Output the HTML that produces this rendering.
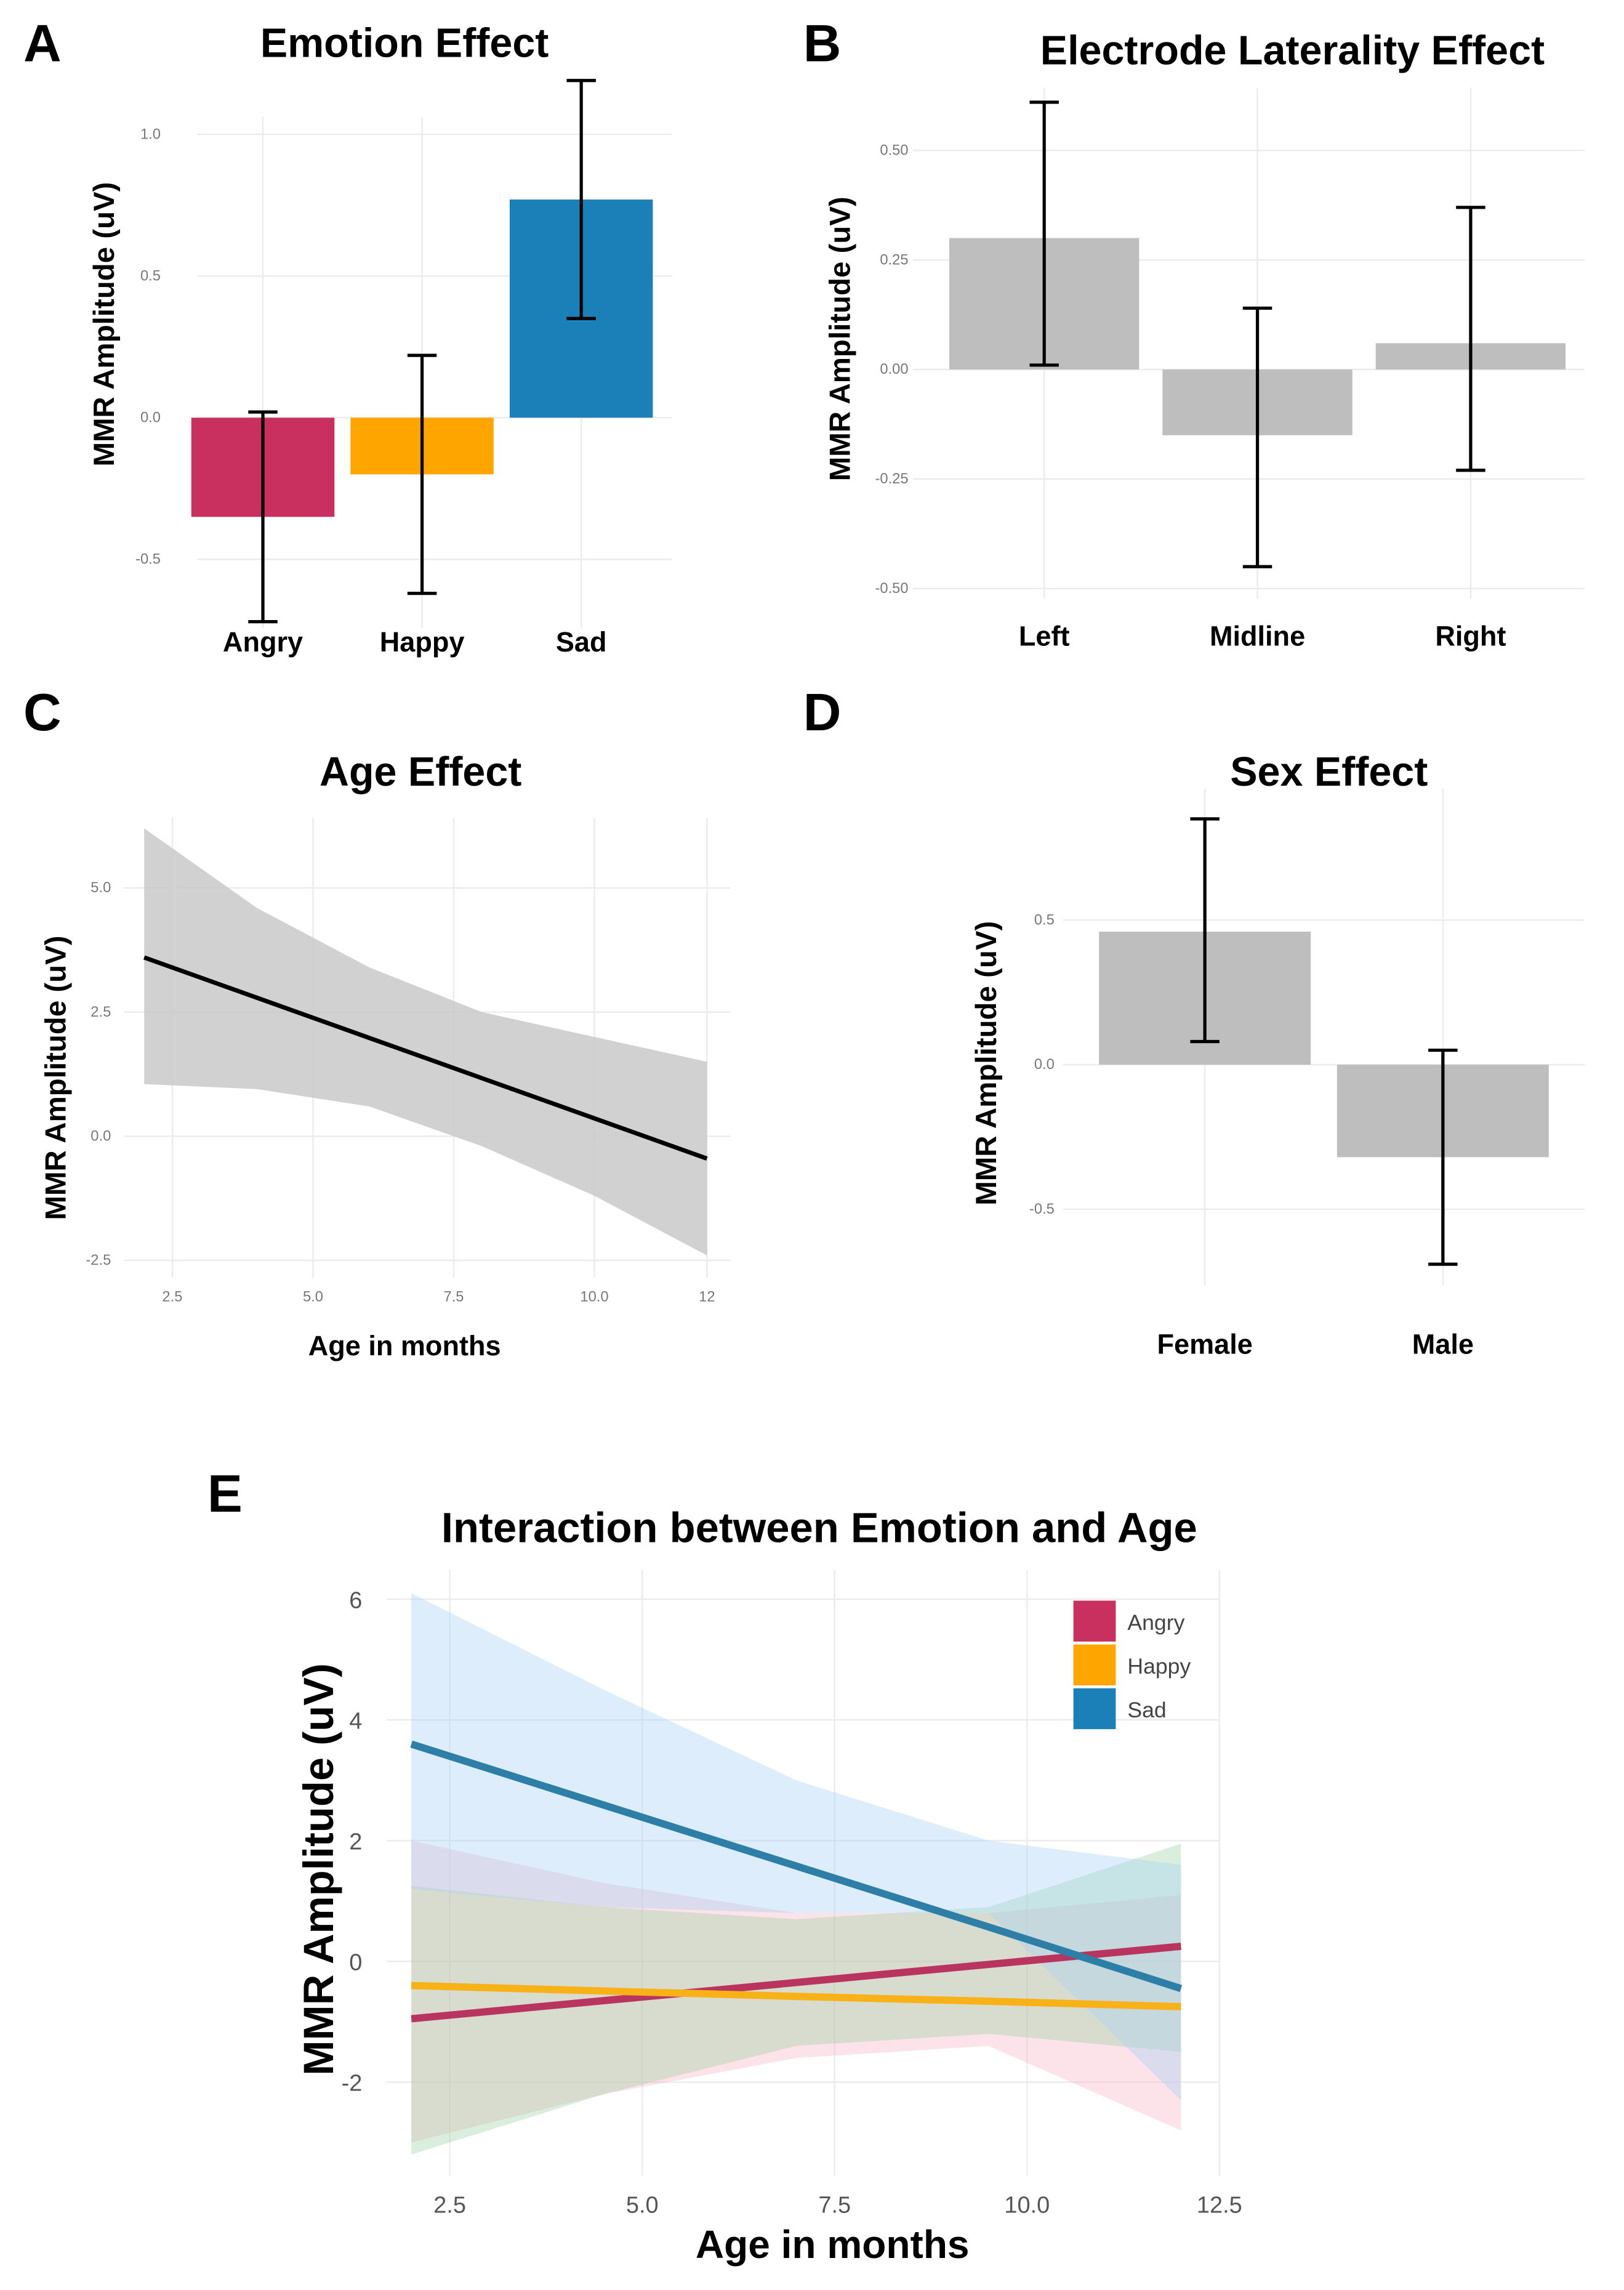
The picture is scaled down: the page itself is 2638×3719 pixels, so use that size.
<!DOCTYPE html>
<html><head><meta charset="utf-8"><style>
html,body{margin:0;padding:0;background:#fff}
svg{display:block}
text{font-family:"Liberation Sans",Arial,sans-serif}
.t{font-weight:bold;fill:#000}
.tk{fill:#777;font-size:10px}
.tk2{fill:#555;font-size:16px}
.g{stroke:#ebebeb;stroke-width:1}
</style></head><body>
<svg id="fig" xmlns="http://www.w3.org/2000/svg" width="2638" height="3719" viewBox="0 0 1112 1568" preserveAspectRatio="none">
<rect width="1112" height="1568" fill="#fff"/>
<text class="t" x="16" y="42" font-size="36">A</text>
<text class="t" x="550" y="42" font-size="36">B</text>
<text class="t" x="16" y="500" font-size="36">C</text>
<text class="t" x="550" y="500" font-size="36">D</text>
<text class="t" x="142" y="1035" font-size="36">E</text>
<text class="t" x="277" y="39" font-size="28" text-anchor="middle">Emotion Effect</text>
<text class="t" x="885" y="44" font-size="28" text-anchor="middle">Electrode Laterality Effect</text>
<text class="t" x="288" y="538" font-size="28" text-anchor="middle">Age Effect</text>
<text class="t" x="910" y="538" font-size="28" text-anchor="middle">Sex Effect</text>
<text class="t" x="561" y="1056" font-size="29" text-anchor="middle">Interaction between Emotion and Age</text>
<g id="root"></g>
</svg>
<script>
// Panel A
const emoCats = ["Angry","Happy","Sad"];
const emoVals = [-0.35,-0.2,0.77];
const emoLo = [-0.72,-0.62,0.35];
const emoHi = [0.02,0.22,1.19];
const emoTicks = [-0.5,0.0,0.5,1.0];
// Panel B
const latCats = ["Left","Midline","Right"];
const latVals = [0.30,-0.15,0.06];
const latLo = [0.01,-0.45,-0.23];
const latHi = [0.61,0.14,0.37];
const latTicks = [-0.50,-0.25,0.00,0.25,0.50];
// Panel C
const ageX = [2,4,6,8,10,12];
const ageFit = [3.6,2.79,1.98,1.17,0.36,-0.45];
const ageUp = [6.2,4.6,3.4,2.5,2.0,1.5];
const ageLow = [1.05,0.95,0.6,-0.2,-1.2,-2.4];
const ageXTicks = [2.5,5.0,7.5,10.0,12];
const ageYTicks = [-2.5,0.0,2.5,5.0];
// Panel D
const sexCats = ["Female","Male"];
const sexVals = [0.46,-0.32];
const sexLo = [0.08,-0.69];
const sexHi = [0.85,0.05];
const sexTicks = [-0.5,0.0,0.5];
// Panel E
const intX = [2,4.5,7,9.5,12];
const sadFit = [3.6,2.59,1.58,0.57,-0.45];
const sadUp = [6.1,4.5,3.0,2.0,1.6];
const sadLow = [1.2,0.9,0.8,0.8,-2.3];
const angFit = [-0.95,-0.65,-0.35,-0.05,0.25];
const angUp = [2.0,1.3,0.8,0.8,1.1];
const angLow = [-3.0,-2.2,-1.6,-1.4,-2.8];
const hapFit = [-0.4,-0.49,-0.58,-0.66,-0.75];
const hapUp = [1.25,0.9,0.7,0.9,1.95];
const hapLow = [-3.2,-2.2,-1.4,-1.2,-1.5];
const intXTicks = [2.5,5.0,7.5,10.0,12.5];
const intYTicks = [-2,0,2,4,6];
const legendLabels = ["Angry","Happy","Sad"];
const colors = ["#c9305f","#ffa500","#1b80b8"];

const NS="http://www.w3.org/2000/svg";
const root=document.getElementById('root');
function mk(tag,attrs,txt){const e=document.createElementNS(NS,tag);for(const k in attrs)e.setAttribute(k,attrs[k]);if(txt!==undefined)e.textContent=txt;root.appendChild(e);return e;}
function lin(d0,d1,r0,r1){return v=>r0+(v-d0)*(r1-r0)/(d1-d0);}
function fmt(v,dp){return v.toFixed(dp);}

function yTitle(x,y,size,label){
  const t=mk('text',{x:x,y:y,'font-size':size,'text-anchor':'middle','class':'t',transform:`rotate(-90 ${x} ${y})`},label);
  
  
}
function barPanel(cats,vals,lo,hi,ticks,dp,y,x0,x1,bx,bw,colorsArr,tickX,labelY,gTop,gBot,nm){
  ticks.forEach(v=>{
    const l=mk('line',{x1:x0,x2:x1,y1:y(v),y2:y(v),'class':'g'});
    
    
    const t=mk('text',{x:tickX,y:y(v)+3,'class':'tk','text-anchor':'end'},fmt(v,dp));
    
    
  });
  cats.forEach((c,i)=>{
    const gl=mk('line',{x1:bx(i),x2:bx(i),y1:gTop,y2:gBot,'class':'g'});
    
    
  });
  cats.forEach((c,i)=>{
    const top=Math.min(y(0),y(vals[i])),h=Math.abs(y(vals[i])-y(0));
    const r=mk('rect',{x:bx(i)-bw/2,y:top,width:bw,height:h,fill:colorsArr[i]});
    
    
    const e=mk('path',{d:`M${bx(i)-10},${y(hi[i])}H${bx(i)+10}M${bx(i)},${y(hi[i])}V${y(lo[i])}M${bx(i)-10},${y(lo[i])}H${bx(i)+10}`,stroke:'#000','stroke-width':2.2,fill:'none'});
    
    
    const t=mk('text',{x:bx(i),y:labelY,'text-anchor':'middle','class':'t','font-size':19},c);
    
    
  });
}
// A
const yA=lin(0,1,286,92);
barPanel(emoCats,emoVals,emoLo,emoHi,emoTicks,1,yA,135,460,i=>180+i*109,98,colors,110,446,80,430,'emotion');
yTitle(78,222,20,'MMR Amplitude (uV)');
// B
const yB=lin(0,0.5,253,103);
barPanel(latCats,latVals,latLo,latHi,latTicks,2,yB,625,1085,i=>715+i*146,130,["#bebebe","#bebebe","#bebebe"],622,442,60,410,'laterality');
yTitle(582,232,20,'MMR Amplitude (uV)');
// D
const yD=lin(0,0.5,729,630);
barPanel(sexCats,sexVals,sexLo,sexHi,sexTicks,1,yD,728,1085,i=>825+i*163,145,["#bebebe","#bebebe"],722,927,540,880,'sex');
yTitle(682,728,20,'MMR Amplitude (uV)');

function bandPath(xs,up,low,x,y){
  let d='M'+xs.map((v,i)=>x(v)+','+y(up[i])).join('L');
  d+='L'+xs.map((v,i)=>x(v)+','+y(low[i])).reverse().join('L')+'Z';return d;
}
function linePath(xs,ys,x,y){return 'M'+xs.map((v,i)=>x(v)+','+y(ys[i])).join('L');}
// C
const xC=lin(2.5,10,118,407), yC=lin(0,5,778,608);
ageXTicks.forEach(v=>{const l=mk('line',{x1:xC(v),x2:xC(v),y1:560,y2:875,'class':'g'});
 const t=mk('text',{x:xC(v),y:891,'class':'tk','text-anchor':'middle'},v===12?'12':fmt(v,1));});
ageYTicks.forEach(v=>{const l=mk('line',{x1:85,x2:500,y1:yC(v),y2:yC(v),'class':'g'});
 const t=mk('text',{x:76,y:yC(v)+3,'class':'tk','text-anchor':'end'},fmt(v,1));});
const bc=mk('path',{d:bandPath(ageX,ageUp,ageLow,xC,yC),fill:'#c9c9c9','fill-opacity':0.85});


const lc=mk('path',{d:linePath(ageX,ageFit,xC,yC),stroke:'#000','stroke-width':3,fill:'none'});


const xtC=mk('text',{x:277,y:928,'class':'t','font-size':19,'text-anchor':'middle'},'Age in months');


yTitle(45,738,20,'MMR Amplitude (uV)');
// E
const xE=lin(2.5,12.5,308,835), yE=lin(0,6,1343,1095);
intXTicks.forEach(v=>{const l=mk('line',{x1:xE(v),x2:xE(v),y1:1075,y2:1490,'class':'g'});
 const t=mk('text',{x:xE(v),y:1515,'class':'tk2','text-anchor':'middle'},fmt(v,1));});
intYTicks.forEach(v=>{const l=mk('line',{x1:265,x2:835,y1:yE(v),y2:yE(v),'class':'g'});
 const t=mk('text',{x:248,y:yE(v)+6,'class':'tk2','text-anchor':'end'},String(v));});
const bands=[[angUp,angLow,'#f7b6c8'],[hapUp,hapLow,'#9fd4a8'],[sadUp,sadLow,'#a9d3f5']];
const bnames=['angry','happy','sad'];
bands.forEach((b,i)=>{const p=mk('path',{d:bandPath(intX,b[0],b[1],xE,yE),fill:b[2],'fill-opacity':0.4});
 
 });
const fits=[angFit,hapFit,sadFit];
const lineCols=["#b93560","#f8b218","#2e7fa8"];
fits.forEach((f,i)=>{const p=mk('path',{d:linePath(intX,f,xE,yE),stroke:lineCols[i],'stroke-width':5,fill:'none'});
 
 });
legendLabels.forEach((lab,i)=>{
 const r=mk('rect',{x:735,y:1096+i*30,width:29,height:28,fill:colors[i]});
 
 
 const t=mk('text',{x:772,y:1116+i*30,'font-size':15,fill:'#444'},lab);
 
 
});
const xtE=mk('text',{x:570,y:1546,'class':'t','font-size':27,'text-anchor':'middle'},'Age in months');


yTitle(228,1280,29,'MMR Amplitude (uV)');
</script>
</body></html>
